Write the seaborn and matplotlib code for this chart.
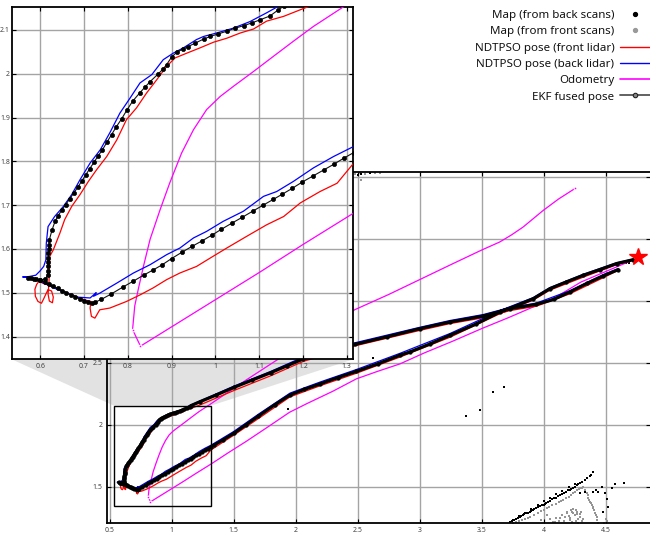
import matplotlib
matplotlib.use('Agg')
import matplotlib.pyplot as plt
import matplotlib.patches as mpatches
from matplotlib.lines import Line2D
from matplotlib.ticker import FuncFormatter
import seaborn as sns

# ---------------- data ----------------
ekf_x = [4.72, 4.587, 4.45, 4.32, 4.18, 4.05, 3.916, 3.78, 3.647, 3.45, 3.244, 3.08, 2.92, 2.84, 2.66, 2.49, 2.34, 2.2, 2.07, 1.955, 1.83, 1.7, 1.6, 1.5, 1.41, 1.34,
         1.316, 1.293, 1.270, 1.247, 1.224, 1.199, 1.175, 1.153, 1.132, 1.109, 1.085, 1.061, 1.038, 1.014, 0.993, 0.969, 0.947, 0.923, 0.900, 0.879, 0.858, 0.836, 0.812, 0.789, 0.762, 0.740, 0.725,
         0.718, 0.710, 0.700, 0.690, 0.680, 0.670, 0.660, 0.650, 0.640, 0.630, 0.620, 0.610, 0.600, 0.590, 0.580, 0.572, 0.585, 0.600, 0.612, 0.617, 0.618, 0.618, 0.618, 0.619, 0.619, 0.620, 0.620, 0.621,
         0.627, 0.634, 0.641, 0.649, 0.658, 0.668, 0.677, 0.686, 0.695, 0.704, 0.713, 0.723, 0.732, 0.742, 0.752, 0.763, 0.774, 0.786, 0.798, 0.811, 0.828, 0.840, 0.851, 0.870, 0.880, 0.889, 0.900, 0.912, 0.925, 0.938, 0.954, 0.973, 0.988, 1.007, 1.026, 1.045, 1.066, 1.083, 1.102, 1.125, 1.144, 1.156,
         1.23, 1.36, 1.5, 1.65, 1.8, 1.93, 2.06, 2.25, 2.476, 2.74, 3.0, 3.244, 3.512, 3.728, 3.94, 4.08, 4.21, 4.35, 4.48, 4.60]
ekf_y = [3.33, 3.299, 3.25, 3.205, 3.15, 3.097, 3.016, 2.96, 2.909, 2.81, 2.721, 2.65, 2.586, 2.56, 2.49, 2.43, 2.38, 2.33, 2.285, 2.24, 2.16, 2.07, 2.00, 1.93, 1.875, 1.834,
         1.820, 1.807, 1.793, 1.780, 1.767, 1.753, 1.738, 1.725, 1.713, 1.700, 1.686, 1.672, 1.659, 1.645, 1.632, 1.618, 1.606, 1.592, 1.578, 1.564, 1.552, 1.540, 1.526, 1.513, 1.497, 1.485, 1.478,
         1.476, 1.478, 1.482, 1.486, 1.491, 1.495, 1.500, 1.505, 1.510, 1.515, 1.520, 1.525, 1.528, 1.531, 1.533, 1.534, 1.531, 1.529, 1.531, 1.540, 1.550, 1.560, 1.570, 1.580, 1.590, 1.600, 1.610, 1.621,
         1.643, 1.663, 1.676, 1.688, 1.701, 1.715, 1.728, 1.741, 1.755, 1.769, 1.783, 1.798, 1.812, 1.826, 1.843, 1.861, 1.879, 1.897, 1.917, 1.937, 1.957, 1.970, 1.982, 2.000, 2.010, 2.021, 2.038, 2.049, 2.056, 2.062, 2.070, 2.079, 2.085, 2.091, 2.097, 2.104, 2.110, 2.116, 2.123, 2.132, 2.146, 2.154,
         2.186, 2.24, 2.30, 2.36, 2.42, 2.475, 2.53, 2.59, 2.647, 2.71, 2.774, 2.828, 2.876, 2.935, 2.97, 3.01, 3.07, 3.14, 3.20, 3.25]

front_x = [4.70, 4.587, 4.32, 4.05, 3.916, 3.647, 3.244, 2.84, 2.49, 2.2, 1.955, 1.7, 1.5, 1.316,
           1.278, 1.239, 1.194, 1.156, 1.117, 1.072, 1.026, 0.988, 0.957, 0.919, 0.889, 0.858, 0.828, 0.797, 0.759, 0.736, 0.725, 0.717, 0.714, 0.716,
           0.70, 0.68, 0.66, 0.64, 0.62, 0.605, 0.598, 0.592, 0.588, 0.589, 0.595, 0.603, 0.608, 0.614, 0.618, 0.626, 0.630, 0.628, 0.621, 0.618, 0.620, 0.621, 0.622,
           0.630, 0.645, 0.656, 0.672, 0.691, 0.710, 0.729, 0.752, 0.775, 0.797, 0.820, 0.843, 0.866, 0.889, 0.908, 0.935, 0.965, 0.996, 1.026, 1.057, 1.087, 1.117, 1.156, 1.194,
           1.23, 1.5, 1.8, 2.06, 2.476, 3.0, 3.244, 3.512, 3.728, 3.94, 4.21, 4.48, 4.58]
front_y = [3.32, 3.29, 3.19, 3.085, 3.005, 2.895, 2.705, 2.545, 2.415, 2.315, 2.225, 2.05, 1.915, 1.796,
           1.750, 1.731, 1.705, 1.674, 1.655, 1.629, 1.602, 1.579, 1.560, 1.545, 1.530, 1.511, 1.495, 1.480, 1.465, 1.461, 1.442, 1.446, 1.465, 1.480,
           1.484, 1.492, 1.500, 1.509, 1.517, 1.522, 1.527, 1.519, 1.508, 1.492, 1.480, 1.476, 1.486, 1.499, 1.507, 1.504, 1.490, 1.477, 1.481, 1.497, 1.520, 1.550, 1.583,
           1.598, 1.636, 1.667, 1.697, 1.724, 1.754, 1.781, 1.811, 1.849, 1.895, 1.922, 1.956, 1.986, 2.017, 2.036, 2.047, 2.059, 2.072, 2.081, 2.093, 2.102, 2.120, 2.131, 2.146,
           2.16, 2.275, 2.395, 2.51, 2.635, 2.76, 2.815, 2.862, 2.92, 2.955, 3.055, 3.185, 3.235]

back_x = [4.72, 4.587, 4.32, 4.05, 3.916, 3.647, 3.244, 2.84, 2.49, 2.2, 1.955, 1.7, 1.5, 1.316,
          1.270, 1.224, 1.178, 1.140, 1.110, 1.064, 1.018, 0.980, 0.950, 0.919, 0.889, 0.851, 0.813, 0.775, 0.736, 0.722, 0.728, 0.714,
          0.700, 0.683, 0.660, 0.640, 0.620, 0.600, 0.584, 0.560, 0.575, 0.590, 0.600, 0.608, 0.613, 0.614, 0.618,
          0.633, 0.653, 0.672, 0.691, 0.714, 0.737, 0.759, 0.782, 0.805, 0.828, 0.855, 0.881, 0.904, 0.927, 0.957, 0.973, 1.003, 1.041, 1.079, 1.117, 1.144,
          1.5, 1.8, 2.06, 2.476, 3.0, 3.244, 3.512, 3.728, 3.94, 4.21, 4.48, 4.6]
back_y = [3.335, 3.305, 3.213, 3.105, 3.025, 2.92, 2.735, 2.575, 2.445, 2.345, 2.255, 2.085, 1.945, 1.834,
          1.811, 1.785, 1.754, 1.731, 1.720, 1.686, 1.663, 1.640, 1.625, 1.602, 1.587, 1.564, 1.545, 1.522, 1.499, 1.492, 1.500, 1.488,
          1.489, 1.490, 1.500, 1.507, 1.517, 1.526, 1.534, 1.536, 1.537, 1.540, 1.550, 1.560, 1.575, 1.613, 1.651,
          1.674, 1.697, 1.724, 1.758, 1.796, 1.826, 1.865, 1.910, 1.944, 1.979, 1.998, 2.032, 2.047, 2.059, 2.078, 2.085, 2.093, 2.104, 2.119, 2.139, 2.154,
          2.31, 2.43, 2.545, 2.66, 2.785, 2.84, 2.888, 2.945, 2.98, 3.08, 3.21, 3.258]

odom_x = [4.70, 4.50, 4.30, 4.10, 3.94, 3.72, 3.50, 3.27, 3.04, 2.84, 2.66, 2.49, 2.30, 2.09, 1.95, 1.78, 1.60, 1.45, 1.316, 1.20, 1.10, 1.00, 0.90, 0.829, 0.811,
          0.816, 0.824, 0.836, 0.851, 0.874, 0.896, 0.923, 0.950, 0.980, 1.011, 1.041, 1.087, 1.133, 1.178, 1.224, 1.293, 1.60, 1.90, 2.20, 2.476, 2.75, 2.994, 3.25, 3.497, 3.645, 3.74, 3.833, 3.92, 3.995, 4.12, 4.253]
odom_y = [3.32, 3.235, 3.15, 3.03, 2.96, 2.865, 2.775, 2.675, 2.58, 2.49, 2.43, 2.37, 2.27, 2.17, 2.10, 1.985, 1.865, 1.77, 1.682, 1.61, 1.546, 1.484, 1.422, 1.378, 1.416,
          1.470, 1.508, 1.561, 1.622, 1.690, 1.751, 1.819, 1.872, 1.918, 1.948, 1.971, 2.005, 2.040, 2.074, 2.108, 2.153, 2.36, 2.555, 2.75, 2.927, 3.05, 3.167, 3.29, 3.407, 3.473, 3.53, 3.593, 3.665, 3.727, 3.82, 3.905]

map_back_x = [3.728, 3.745, 3.76, 3.775, 3.79, 3.809, 3.82, 3.83, 3.845, 3.86, 3.875, 3.89, 3.90, 3.91, 3.925, 3.94, 3.955, 3.97, 3.985, 4.0, 4.01, 4.02, 4.035, 4.051, 4.065, 4.08, 4.09, 4.10, 4.115, 4.132, 4.145, 4.16, 4.18, 4.198, 4.21, 4.22, 4.235, 4.25, 4.265, 4.279, 4.295, 4.31, 4.33, 4.347, 4.37, 4.385, 4.40,
              3.75, 3.80, 3.85, 3.90, 3.95, 4.00, 4.05, 4.10, 4.15, 4.20, 4.25,
              4.29, 4.33, 4.40, 4.44, 4.494, 4.52, 4.48, 4.548, 4.575, 4.648, 4.47, 4.42, 4.51,
              3.37, 3.49, 3.59, 3.68, 1.94, 1.95, 2.62, 4.66, 4.69, 2.53, 2.60, 2.50]
map_back_y = [1.218, 1.226, 1.232, 1.242, 1.25, 1.253, 1.262, 1.27, 1.277, 1.285, 1.29, 1.298, 1.306, 1.315, 1.319, 1.325, 1.336, 1.344, 1.349, 1.355, 1.364, 1.372, 1.378, 1.387, 1.397, 1.405, 1.408, 1.412, 1.423, 1.433, 1.441, 1.45, 1.46, 1.473, 1.476, 1.48, 1.49, 1.50, 1.511, 1.522, 1.53, 1.54, 1.556, 1.568, 1.585, 1.598, 1.616,
              1.235, 1.262, 1.292, 1.322, 1.352, 1.382, 1.41, 1.44, 1.468, 1.498, 1.525,
              1.447, 1.455, 1.46, 1.46, 1.447, 1.34, 1.298, 1.487, 1.522, 1.532, 1.50, 1.47, 1.40,
              2.07, 2.12, 2.26, 2.30, 2.126, 2.23, 2.535, 3.30, 3.30, 4.02, 4.03, 4.01]

map_front_x = [3.755, 3.78, 3.80, 3.825, 3.85, 3.87, 3.89, 3.92, 3.95, 3.975, 4.00, 4.024, 4.045, 4.07, 4.095, 4.12, 4.14, 4.158, 4.18, 4.20, 4.22, 4.239, 4.255, 4.27, 4.283, 4.293, 4.31, 4.33, 4.32,
               4.347, 4.355, 4.36, 4.366, 4.373, 4.38, 4.39, 4.395, 4.40, 4.408, 4.415, 4.42, 4.427, 4.433, 4.44,
               4.185, 4.266, 4.293, 4.212, 4.132, 4.078, 4.024, 4.23, 4.25, 4.28, 4.31, 4.16, 4.20, 4.10, 4.05, 3.98, 4.30, 4.24,
               4.22, 4.26, 4.19, 4.15, 4.27, 4.29, 4.21, 4.17, 4.12, 4.24, 4.28, 4.32, 4.09, 4.26, 4.23,
               4.49, 4.51, 4.50, 2.48, 2.52, 2.56, 2.64, 2.68, 2.53]
map_front_y = [1.205, 1.215, 1.225, 1.232, 1.24, 1.25, 1.258, 1.275, 1.29, 1.303, 1.315, 1.326, 1.338, 1.35, 1.363, 1.375, 1.385, 1.393, 1.407, 1.42, 1.433, 1.447, 1.458, 1.47, 1.478, 1.487, 1.49, 1.475, 1.50,
               1.447, 1.43, 1.41, 1.395, 1.379, 1.365, 1.35, 1.338, 1.326, 1.31, 1.29, 1.275, 1.258, 1.235, 1.21,
               1.285, 1.298, 1.258, 1.231, 1.245, 1.218, 1.272, 1.30, 1.27, 1.24, 1.22, 1.22, 1.26, 1.25, 1.24, 1.23, 1.30, 1.32,
               1.31, 1.31, 1.30, 1.27, 1.28, 1.28, 1.25, 1.255, 1.225, 1.29, 1.21, 1.24, 1.215, 1.225, 1.215,
               1.21, 1.22, 1.24, 4.02, 4.03, 4.02, 4.03, 4.03, 3.97]

start_x = [4.757]
start_y = [3.35]

labels = ["Map (from back scans)", "Map (from front scans)", "NDTPSO pose (front lidar)",
          "NDTPSO pose (back lidar)", "Odometry", "EKF fused pose"]

main_xticks = [0.5, 1, 1.5, 2, 2.5, 3, 3.5, 4, 4.5]
main_yticks = [1.5, 2, 2.5, 3, 3.5, 4]
inset_xticks = [0.6, 0.7, 0.8, 0.9, 1.0, 1.1, 1.2, 1.3]
inset_yticks = [1.4, 1.5, 1.6, 1.7, 1.8, 1.9, 2.0, 2.1]

# ---------------- style ----------------
sns.set_theme(style='white')
plt.rcParams['font.family'] = ['Noto Sans', 'DejaVu Sans']

W, H = 650, 535
fig = plt.figure(figsize=(6.5, 5.35), dpi=100)


def rect(x0, y0, x1, y1):
    return [x0 / W, 1 - y1 / H, (x1 - x0) / W, (y1 - y0) / H]


ax = fig.add_axes(rect(106.7, 172.3, 650, 523.3))
ax_in = fig.add_axes(rect(11.7, 6.7, 353.3, 359.3))

RED, BLUE, MAG = '#ff0000', '#0000ff', '#ff00ff'


def draw(a, main):
    sns.scatterplot(x=map_front_x, y=map_front_y, ax=a, color='#959595', s=4, marker='s',
                    linewidth=0, zorder=2, legend=False)
    sns.scatterplot(x=map_back_x, y=map_back_y, ax=a, color='black', s=3.5, marker='s',
                    linewidth=0, zorder=2.1, legend=False)
    sns.lineplot(x=odom_x, y=odom_y, ax=a, sort=False, estimator=None, color=MAG,
                 linewidth=0.9, zorder=3, legend=False,
                 marker='.', markersize=4, markevery=[23, 24, len(odom_x) - 1])
    sns.lineplot(x=front_x, y=front_y, ax=a, sort=False, estimator=None, color=RED,
                 linewidth=0.9, zorder=3.2, legend=False)
    sns.lineplot(x=back_x, y=back_y, ax=a, sort=False, estimator=None, color=BLUE,
                 linewidth=0.9, zorder=3.3, legend=False)
    if main:
        sns.lineplot(x=ekf_x, y=ekf_y, ax=a, sort=False, estimator=None, color='black',
                     linewidth=2.3, marker='o', markersize=2.7, markerfacecolor='black',
                     markeredgecolor='black', markeredgewidth=0.3, zorder=4, legend=False)
    else:
        sns.lineplot(x=ekf_x, y=ekf_y, ax=a, sort=False, estimator=None, color='#111111',
                     linewidth=0.8, marker='o', markersize=3.0, markerfacecolor='black',
                     markeredgecolor='black', markeredgewidth=0.5, zorder=4, legend=False)


def style_axes(a, xt, yt, xlim, ylim, ypad):
    a.set_xlim(*xlim)
    a.set_ylim(*ylim)
    a.set_xticks(xt)
    a.set_yticks(yt)
    fmt = FuncFormatter(lambda v, p: ('%g' % round(v, 2)))
    a.xaxis.set_major_formatter(fmt)
    a.yaxis.set_major_formatter(fmt)
    a.grid(True, color='#a4a4a4', linewidth=1.0)
    a.set_axisbelow(True)
    a.tick_params(direction='in', length=3, width=0.8, color='black', labelsize=5,
                  labelcolor='#444444', top=True, right=True, bottom=True, left=True, pad=3)
    a.tick_params(axis='y', pad=ypad)
    a.set_xlabel('')
    a.set_ylabel('')
    for s in a.spines.values():
        s.set_color('black')
        s.set_linewidth(1.3)
        s.set_visible(True)


draw(ax, True)
draw(ax_in, False)

ax.plot(start_x, start_y, ls='none', marker='*', markersize=13, color=RED, zorder=6)

style_axes(ax, main_xticks, main_yticks, (0.476, 4.857), (1.205, 4.035), 3)
ax.spines['right'].set_visible(False)
style_axes(ax_in, inset_xticks, inset_yticks, (0.535, 1.315), (1.348, 2.153), 1.2)
ax_in.set_facecolor('white')

# zoom rectangle + shaded connector
ix0, ix1 = ax_in.get_xlim()
iy0, iy1 = ax_in.get_ylim()
ax.add_patch(mpatches.Rectangle((ix0, iy0), ix1 - ix0, iy1 - iy0, fill=False,
                                edgecolor='black', linewidth=1.0, zorder=5))
p1 = ax_in.transAxes.transform((0, 0))
p2 = ax_in.transAxes.transform((1, 0))
p3 = ax.transData.transform((ix1, iy1))
p4 = ax.transData.transform((ix0, iy1))
verts = fig.transFigure.inverted().transform([p1, p2, p3, p4])
poly = mpatches.Polygon(verts, closed=True, transform=fig.transFigure,
                        facecolor='#e2e2e2', edgecolor='none', zorder=0.3)
ax.add_artist(poly)
poly.set_clip_on(False)

# legend
handles = [
    Line2D([], [], ls='none', marker='o', markersize=2.8, color='black'),
    Line2D([], [], ls='none', marker='o', markersize=2.8, color='#999999'),
    Line2D([], [], color=RED, lw=1.0),
    Line2D([], [], color=BLUE, lw=1.0),
    Line2D([], [], color=MAG, lw=1.2),
    Line2D([], [], color='#555555', lw=1.3, marker='o', markersize=3.2,
           markerfacecolor='#888888', markeredgecolor='#222222', markeredgewidth=0.8),
]
fig.legend(handles, labels, loc='upper right', bbox_to_anchor=(1.0, 0.981),
           frameon=False, markerfirst=False, fontsize=8.3, handlelength=2.6,
           handletextpad=0.5, labelspacing=0.45, borderaxespad=0, borderpad=0,
           labelcolor='#111111')

fig.savefig('out.png', dpi=100)
